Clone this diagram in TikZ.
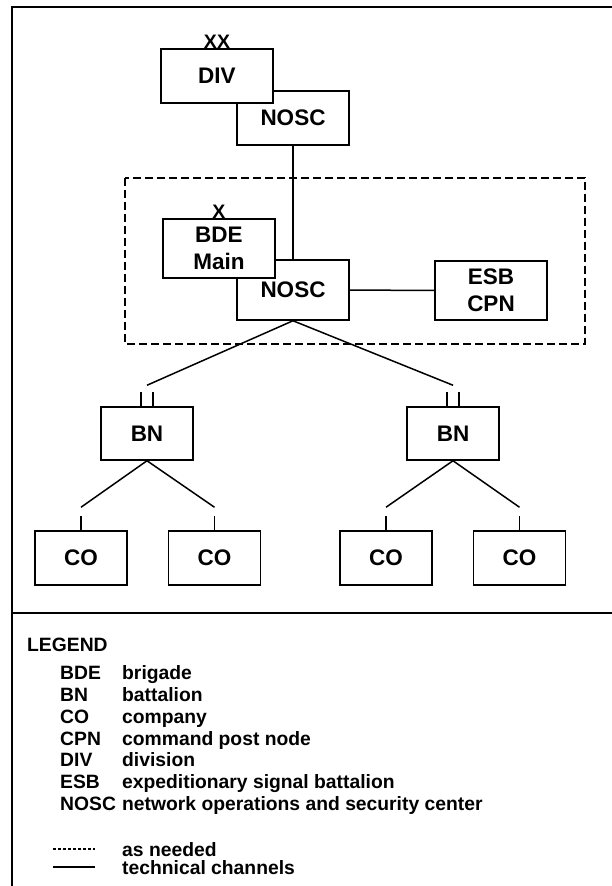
\documentclass[tikz,border=0pt]{standalone}
\usepackage{fontspec}
\setmainfont{Liberation Sans}
\usetikzlibrary{positioning}
\tikzset{
    %Define style for unit boxes
    unit/.style={
           rectangle,
           draw=black, line width=1.5pt,
           fill=white,
           minimum width=112pt,
           minimum height=54pt,
           inner sep=0pt,
           font=\fontsize{22.5}{26.5}\selectfont\bfseries,
           align=center},
    %Define style for echelon marks
    echelon/.style={
           anchor=south,
           inner sep=0pt,
           font=\fontsize{19.5}{20}\selectfont\bfseries},
    legtext/.style={
           anchor=base west,
           inner sep=0pt,
           font=\fontsize{19.3}{22}\selectfont\bfseries},
    % Define connector styles
    link/.style={
           draw=black,
           line width=1.5pt},
    asneeded/.style={
           draw=black,
           line width=1.5pt,
           dash pattern=on 8pt off 4pt},
}
\begin{document}
\begin{tikzpicture}[x=1pt,y=-1pt]
\useasboundingbox (0,0) rectangle (612,886);
% frame
\draw[line width=1.8pt] (612,7) -- (12,7) -- (12,886);
\draw[line width=2.2pt] (12,613) -- (612,613);
% division
\node[unit]                         (divnosc) at (293,118) {NOSC};
\node[unit]                         (div) at (217,76) {DIV};
\node[echelon]                      at (div.north) {XX};
% brigade
\draw[asneeded] (125,178) rectangle (585,344);
\node[unit, minimum height=60pt]    (bdenosc) at (293,290) {NOSC};
\node[unit, minimum height=59pt]    (bde) at (219,248.5) {BDE\\Main};
\node[echelon]                      at (bde.north) {X};
\node[unit, minimum height=59pt]    (esb) at (491,290.5) {ESB\\CPN};
% battalions and companies
\node[unit, minimum width=92pt, minimum height=53pt] (bnl) at (147,433.5) {BN};
\node[unit, minimum width=92pt, minimum height=53pt] (bnr) at (453,433.5) {BN};
\node[unit, minimum width=92pt] (co1) at (81,558) {CO};
\node[unit, minimum width=92pt] (co2) at (214.5,558) {CO};
\node[unit, minimum width=92pt] (co3) at (386,558) {CO};
\node[unit, minimum width=92pt] (co4) at (519.5,558) {CO};
\coordinate[above=21pt of bnl] (bnltop);
\coordinate[above=21pt of bnr] (bnrtop);
\foreach \co in {co1,co2,co3,co4}
    \coordinate[above=23pt of \co] (\co top);
% technical channels
\draw[link] (divnosc) -- (bdenosc);
\draw[link] (bdenosc) -- (esb);
\draw[link] (bdenosc.south) -- (bnltop);
\draw[link] (bdenosc.south) -- (bnrtop);
\draw[link] (bnl.south) -- (co1top);
\draw[link] (bnl.south) -- (co2top);
\draw[link] (bnr.south) -- (co3top);
\draw[link] (bnr.south) -- (co4top);
\foreach \bn in {bnl,bnr}{
    \draw[link] ([xshift=-6pt]\bn.north) -- ++(0pt,14pt);
    \draw[link] ([xshift=6pt]\bn.north) -- ++(0pt,14pt);
}
\foreach \co in {co1,co2,co3,co4}
    \draw[link] (\co.north) -- ++(0pt,14pt);
% legend
\node[legtext] (legend) at (27,651) {LEGEND};
\foreach \abbr/\desc [count=\i] in {BDE/brigade, BN/battalion, CO/company,
    CPN/command post node, DIV/division, ESB/expeditionary signal battalion,
    NOSC/network operations and security center}{
    \node[legtext] (abbr\i) at (60,{679.5+21.85*(\i-1)}) {\abbr};
    \node[legtext] (desc\i) at (122,{679.5+21.85*(\i-1)}) {\desc};
}
\node[legtext] (needed) at (122,856) {as needed};
\node[legtext] (channels) at (122,874) {technical channels};
\draw[line width=1.5pt, dash pattern=on 3pt off 2pt] ([xshift=-69pt,yshift=7pt]needed.base west) -- ([xshift=-27pt,yshift=7pt]needed.base west);
\draw[link] ([xshift=-69pt,yshift=7pt]channels.base west) -- ([xshift=-27pt,yshift=7pt]channels.base west);
\end{tikzpicture}
\end{document}
